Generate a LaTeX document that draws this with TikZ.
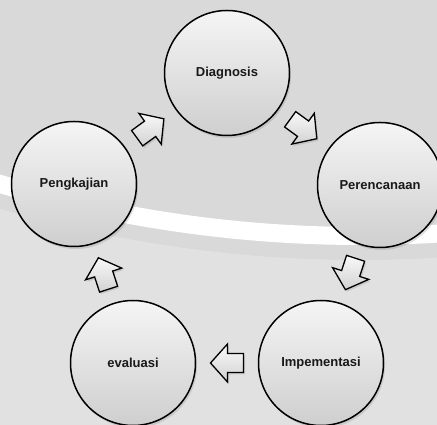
\documentclass[tikz,border=0pt]{standalone}
\usepackage{fontspec}
\setmainfont{Liberation Sans}
\usepackage{tikz}
\usetikzlibrary{positioning}
\usetikzlibrary{calc,shadows}

\definecolor{bggray}{HTML}{D9D9D9}
\definecolor{lowgray}{HTML}{E1E1E1}

\begin{document}
\begin{tikzpicture}[x=1pt,y=1pt,
  stage/.style={draw,circle,line width=1.5pt,minimum size=125pt,inner sep=0pt,
    top color=gray!8,bottom color=gray!38,
    drop shadow={opacity=0.25,shadow xshift=1.5pt,shadow yshift=-2.5pt},
    font=\bfseries\fontsize{13}{15}\selectfont,text=black!90},
  blockarrow/.pic={
    \filldraw[line width=1.3pt,top color=gray!5,bottom color=gray!35,
      drop shadow={opacity=0.25,shadow xshift=1.5pt,shadow yshift=-2pt}]
      (16.5,0) -- (-0.5,19) -- (-0.5,9.5) -- (-16.5,9.5) -- (-16.5,-9.5)
      -- (-0.5,-9.5) -- (-0.5,-19) -- cycle;}]
  \useasboundingbox (0,0) rectangle (437,425);
  \clip (0,0) rectangle (437,425);
  % background with the white band
  \fill[bggray] (0,0) rectangle (437,425);
  \fill[lowgray] (360,1459) ++(-108:1294) arc[start angle=-108,end angle=-84,radius=1294]
    -- (437,0) -- (0,0) -- cycle;
  \draw[white,line width=18pt] (360,1459) ++(-108:1270) arc[start angle=-108,end angle=-84,radius=1270];

  % the five stages
  \node[stage] (diagnosis) at (227,352) {Diagnosis};
  \node[stage] (perencanaan) at (380,240) {Perencanaan};
  \node[stage] (impementasi) at (321,62) {Impementasi};
  \node[stage] (evaluasi) at (133,62) {evaluasi};
  \node[stage] (pengkajian) at (74,241) {Pengkajian};

  % arrows between them
  \pic[rotate=36] at ($(pengkajian)!0.5!(diagnosis)$) {blockarrow};
  \pic[rotate=-36] at ($(diagnosis)!0.5!(perencanaan)$) {blockarrow};
  \pic[rotate=-108] at ($(perencanaan)!0.5!(impementasi)$) {blockarrow};
  \pic[rotate=180] at ($(impementasi)!0.5!(evaluasi)$) {blockarrow};
  \pic[rotate=108] at ($(evaluasi)!0.5!(pengkajian)$) {blockarrow};
\end{tikzpicture}
\end{document}
